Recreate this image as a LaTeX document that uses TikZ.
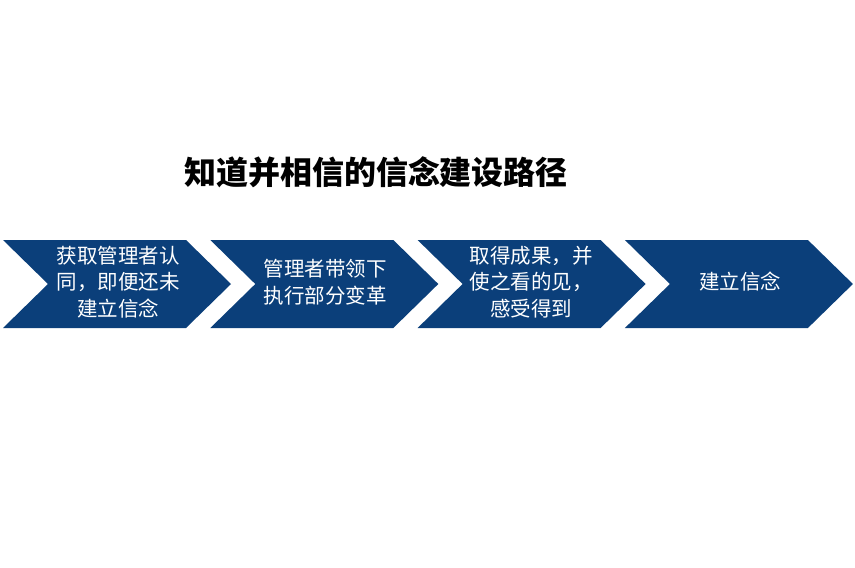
\documentclass[tikz,border=0pt]{standalone}
\usepackage{fontspec}
\newfontfamily\cjk{Noto Sans CJK SC}
\definecolor{chev}{HTML}{0B3F7A}
\begin{document}
\begin{tikzpicture}[x=1pt,y=-1pt,
  lbl/.style={text=white,font=\cjk\fontsize{20.5}{26.5}\selectfont,align=center,inner sep=0pt}]
\useasboundingbox[fill=white] (0,0) rectangle (855,568);
\foreach \i in {0,1,2,3}{
  \pgfmathsetmacro{\x}{3+207.3*\i}
  \fill[chev] (\x,240) -- (\x+183,240) -- (\x+228,284) -- (\x+183,328) -- (\x,328) -- (\x+45,284) -- cycle;
}
\node[font=\cjk\bfseries\fontsize{32}{36}\selectfont,inner sep=0pt] (title) at (376,172) {知道并相信的信念建设路径};
\node[lbl] (a) at (118,282) {获取管理者认\\同，即便还未\\建立信念};
\node[lbl] (b) at (325,282) {管理者带领下\\执行部分变革};
\node[lbl] (c) at (531,282) {取得成果，并\\使之看的见，\\感受得到};
\node[lbl] (d) at (740,282) {建立信念};
\end{tikzpicture}
\end{document}
